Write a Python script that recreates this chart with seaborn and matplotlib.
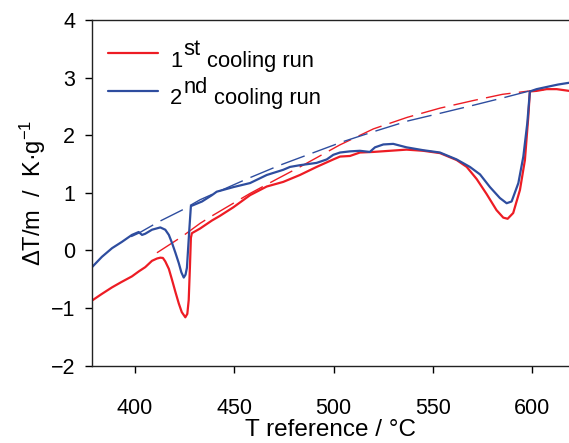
import matplotlib
matplotlib.use("Agg")
import matplotlib.pyplot as plt
import seaborn as sns
import pandas as pd

# ---- data ----
red_T = [378.3, 383, 388.4, 393, 398.4, 402, 405.1, 408.5, 411, 412.7, 414, 415.2, 417, 418.6,
         420.3, 422.0, 423.5, 425.3, 426.3, 427.0, 427.6, 428.1, 428.6, 432.7, 438.7, 442.7,
         449.5, 457.9, 466.3, 474.6, 483.0, 491.4, 499.8, 503.2, 508.2, 513.2, 519.9, 528.3,
         536.7, 545.1, 553.5, 561.9, 567, 572, 577, 582, 585.4, 587.6, 590.4, 593.8, 596.3,
         598.0, 598.8, 602.2, 607.2, 612.3, 618.5]
red_y = [-0.87, -0.76, -0.64, -0.55, -0.45, -0.36, -0.29, -0.18, -0.14, -0.125, -0.13, -0.19,
         -0.32, -0.51, -0.72, -0.92, -1.07, -1.16, -1.10, -0.86, -0.30, 0.22, 0.30, 0.38, 0.52,
         0.60, 0.75, 0.96, 1.11, 1.19, 1.31, 1.45, 1.58, 1.63, 1.64, 1.70, 1.71, 1.73, 1.75,
         1.73, 1.69, 1.57, 1.45, 1.24, 0.98, 0.70, 0.57, 0.55, 0.65, 1.05, 1.57, 2.32, 2.76,
         2.77, 2.80, 2.80, 2.77]

blue_T = [378.3, 383.3, 388.4, 393.4, 398.4, 401.8, 403.5, 405.1, 408.5, 412.7, 415.2, 417,
          418.6, 420.3, 422, 423.3, 424.5, 425.4, 426.1, 427.3, 428.1, 433.7, 438.7, 441.1,
          449.5, 457.9, 466.3, 474.6, 478, 483, 491.4, 496.5, 499.8, 503.2, 508.2, 513.2,
          518.2, 520.8, 525, 530, 536.7, 545.1, 553.5, 561.9, 568.6, 573.7, 578.7, 583.7,
          587.1, 589.6, 593, 595.5, 597.5, 598.8, 602.2, 608.9, 613, 618.5]
blue_y = [-0.29, -0.11, 0.04, 0.15, 0.27, 0.32, 0.27, 0.29, 0.36, 0.40, 0.36, 0.27, 0.13,
          -0.04, -0.22, -0.38, -0.47, -0.42, -0.30, 0.36, 0.77, 0.85, 0.96, 1.02, 1.10, 1.17,
          1.31, 1.40, 1.45, 1.48, 1.52, 1.58, 1.66, 1.70, 1.72, 1.73, 1.71, 1.79, 1.84, 1.85,
          1.79, 1.74, 1.70, 1.58, 1.45, 1.32, 1.10, 0.91, 0.82, 0.85, 1.17, 1.63, 2.21, 2.76,
          2.80, 2.85, 2.88, 2.91]

red_base_T = [411, 423.6, 432.7, 438.7, 449.5, 457.9, 472, 483, 503, 520, 537, 553.5, 570,
              585, 599, 606]
red_base_y = [-0.04, 0.24, 0.47, 0.60, 0.82, 0.99, 1.25, 1.45, 1.83, 2.11, 2.31, 2.47, 2.60,
              2.71, 2.77, 2.79]

blue_base_T = [398, 401.8, 412, 423.6, 432.7, 456.2, 472.9, 490, 504.8, 519.9, 537.6, 553.5,
               570.3, 585.4, 598.8]
blue_base_y = [0.24, 0.30, 0.50, 0.70, 0.88, 1.24, 1.48, 1.70, 1.89, 2.06, 2.25, 2.38, 2.52,
               2.65, 2.77]

legend_num = ["1", "2"]
legend_sup = ["st", "nd"]
legend_txt = "cooling run"
x_ticks = [400, 450, 500, 550, 600]
y_ticks = [-2, -1, 0, 1, 2, 3, 4]

RED = "#ed1c24"
BLUE = "#2e4d9f"

sns.set_style("ticks")
plt.rcParams["font.family"] = ["Liberation Sans", "DejaVu Sans"]
plt.rcParams["mathtext.fontset"] = "custom"
plt.rcParams["mathtext.rm"] = "Liberation Sans"
plt.rcParams["mathtext.it"] = "Liberation Sans:italic"
plt.rcParams["text.color"] = "black"
plt.rcParams["axes.labelcolor"] = "black"

fig = plt.figure(figsize=(5.69, 4.43), dpi=100)
ax = fig.add_axes([92 / 569, 1 - 365.7 / 443, (569 - 92) / 569, (365.7 - 20) / 443])

df_r = pd.DataFrame({"T": red_T, "y": red_y})
df_b = pd.DataFrame({"T": blue_T, "y": blue_y})
df_rb = pd.DataFrame({"T": red_base_T, "y": red_base_y})
df_bb = pd.DataFrame({"T": blue_base_T, "y": blue_base_y})

sns.lineplot(data=df_rb, x="T", y="y", ax=ax, color=RED, lw=1.0, linestyle=(0, (18, 6)),
             estimator=None, sort=False)
sns.lineplot(data=df_bb, x="T", y="y", ax=ax, color=BLUE, lw=1.0, linestyle=(0, (18, 6)),
             estimator=None, sort=False)
sns.lineplot(data=df_r, x="T", y="y", ax=ax, color=RED, lw=1.6, estimator=None, sort=False)
sns.lineplot(data=df_b, x="T", y="y", ax=ax, color=BLUE, lw=1.6, estimator=None, sort=False)

ax.set_xlim(378.3, 618.5)
ax.set_ylim(-2, 4)
ax.set_xticks(x_ticks)
ax.set_yticks(y_ticks)
ax.tick_params(direction="out", length=5, width=1, labelsize=15.5, color="black",
               labelcolor="black")
ax.tick_params(axis="y", pad=7)
ax.tick_params(axis="x", pad=18)
for s in ["left", "bottom", "top"]:
    ax.spines[s].set_visible(True)
    ax.spines[s].set_linewidth(1.0)
    ax.spines[s].set_color("#222222")
ax.spines["right"].set_visible(False)

ax.set_xlabel("T reference / °C", fontsize=17.5, labelpad=0)
ax.set_ylabel("ΔT/m  /  K·g$^{\\mathregular{-1}}$", fontsize=17, labelpad=2)

handles = [ax.lines[2], ax.lines[3]]
leg = ax.legend(handles, ["", ""], loc="upper left", bbox_to_anchor=(0.0335, 0.927),
                frameon=False, fontsize=14.5, handlelength=2.5, handletextpad=0.6,
                labelspacing=0.93, borderpad=0, borderaxespad=0)
FS = 15.8
for hl, num, sup in zip(leg.get_lines(), legend_num, legend_sup):
    one = ax.annotate(num, xy=(1, 0.5), xycoords=hl, xytext=(8.5, -9.6),
                      textcoords="offset points", ha="left", va="baseline", fontsize=FS,
                      zorder=10)
    st = ax.annotate(sup, xy=(1, 0), xycoords=one, xytext=(0.8, 8),
                     textcoords="offset points", ha="left", va="bottom", fontsize=FS,
                     zorder=11)
    ax.annotate(legend_txt, xy=(1, 0), xycoords=(st, one), xytext=(4.5, 0),
                textcoords="offset points", ha="left", va="bottom", fontsize=FS, zorder=12)

fig.savefig("out.png", dpi=100)
